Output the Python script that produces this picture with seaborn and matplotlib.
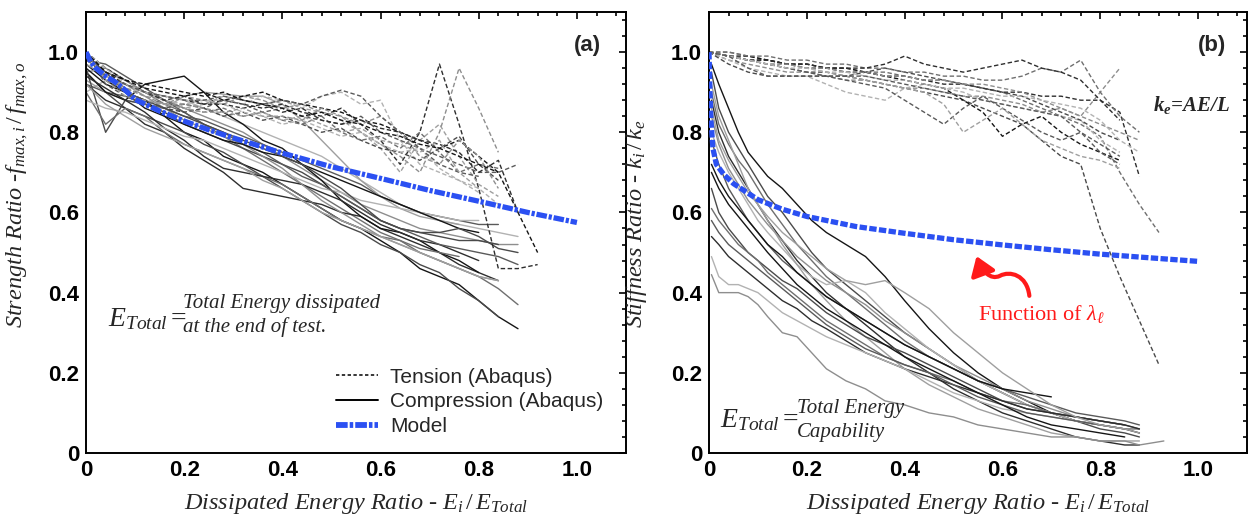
import matplotlib
matplotlib.use("Agg")
import matplotlib.pyplot as plt
import seaborn as sns
from matplotlib.lines import Line2D
from matplotlib.ticker import MultipleLocator, FuncFormatter
from matplotlib.patches import FancyArrowPatch
from matplotlib.path import Path

# ---------------- data ----------------
# common x grid (dissipated energy ratio) for most test curves
X_GRID = [0.00, 0.04, 0.08, 0.12, 0.16, 0.20, 0.24, 0.28, 0.32, 0.36, 0.40, 0.44,
          0.48, 0.52, 0.56, 0.60, 0.64, 0.68, 0.72, 0.76, 0.80, 0.84, 0.88, 0.92]
# x grid for compression stiffness curves (panel b)
X_GRID_B = [0.005, 0.02, 0.04, 0.06, 0.08, 0.10, 0.12, 0.15, 0.18, 0.21, 0.24, 0.28, 0.32,
            0.36, 0.40, 0.45, 0.50, 0.55, 0.60, 0.65, 0.70, 0.75, 0.80, 0.85, 0.88, 0.93]

# Panel (a) - strength ratio, tension (Abaqus)
tension_a = [
    [1.00, 0.95, 0.92, 0.90, 0.89, 0.88, 0.87, 0.88, 0.87, 0.86, 0.87, 0.85, 0.84, 0.86, 0.82, 0.78, 0.72, 0.80, 0.97, 0.82, 0.66, 0.46, 0.46, 0.47],
    [1.00, 0.93, 0.90, 0.88, 0.87, 0.89, 0.88, 0.87, 0.89, 0.88, 0.86, 0.87, 0.85, 0.84, 0.80, 0.77, 0.74, 0.70, 0.80, 0.96, 0.86, 0.75],
    [1.00, 0.94, 0.91, 0.90, 0.88, 0.87, 0.88, 0.88, 0.87, 0.89, 0.88, 0.86, 0.89, 0.90, 0.87, 0.88, 0.78, 0.72, 0.70, 0.68, 0.66, 0.62],
    [1.00, 0.92, 0.89, 0.87, 0.86, 0.87, 0.86, 0.88, 0.87, 0.85, 0.86, 0.84, 0.83, 0.82, 0.84, 0.80, 0.78, 0.76, 0.74, 0.72, 0.70, 0.70, 0.72],
    [1.00, 0.95, 0.91, 0.89, 0.88, 0.86, 0.87, 0.89, 0.88, 0.87, 0.88, 0.86, 0.85, 0.83, 0.80, 0.76, 0.70, 0.78, 0.82, 0.74, 0.67, 0.64],
    [1.00, 0.96, 0.93, 0.91, 0.90, 0.89, 0.90, 0.88, 0.89, 0.90, 0.88, 0.87, 0.86, 0.85, 0.83, 0.82, 0.80, 0.78, 0.76, 0.78, 0.74, 0.70, 0.60, 0.50],
    [1.00, 0.93, 0.90, 0.88, 0.86, 0.85, 0.86, 0.84, 0.85, 0.83, 0.84, 0.82, 0.80, 0.81, 0.78, 0.76, 0.75, 0.73, 0.76, 0.79, 0.72, 0.68],
    [1.00, 0.94, 0.90, 0.87, 0.88, 0.86, 0.85, 0.86, 0.84, 0.85, 0.83, 0.82, 0.84, 0.80, 0.78, 0.79, 0.76, 0.80, 0.75, 0.70, 0.72, 0.71],
    [1.00, 0.95, 0.92, 0.90, 0.88, 0.89, 0.87, 0.87, 0.86, 0.87, 0.85, 0.86, 0.83, 0.82, 0.83, 0.81, 0.80, 0.78, 0.77, 0.75, 0.70, 0.73, 0.60],
    [1.00, 0.94, 0.91, 0.89, 0.87, 0.87, 0.86, 0.85, 0.86, 0.84, 0.84, 0.83, 0.86, 0.84, 0.82, 0.84, 0.80, 0.74, 0.72, 0.78, 0.74, 0.66],
    [1.00, 0.96, 0.92, 0.90, 0.89, 0.88, 0.88, 0.87, 0.85, 0.84, 0.82, 0.83, 0.81, 0.79, 0.80, 0.77, 0.75, 0.76, 0.71, 0.68, 0.65],
    [1.00, 0.94, 0.92, 0.90, 0.89, 0.88, 0.88, 0.89, 0.88, 0.87, 0.88, 0.87, 0.89, 0.905, 0.89, 0.84, 0.80, 0.76, 0.72, 0.70, 0.69],
    [1.00, 0.93, 0.89, 0.88, 0.87, 0.86, 0.85, 0.85, 0.84, 0.85, 0.83, 0.84, 0.82, 0.80, 0.81, 0.78, 0.77, 0.75, 0.78, 0.70, 0.66],
    [1.00, 0.95, 0.93, 0.92, 0.91, 0.90, 0.89, 0.90, 0.88, 0.87, 0.86, 0.84, 0.85, 0.83, 0.82, 0.80, 0.79, 0.77, 0.76, 0.74, 0.72, 0.70],
]

# Panel (a) - strength ratio, compression (Abaqus)
compression_a = [
    [0.97, 0.93, 0.90, 0.86, 0.84, 0.80, 0.78, 0.74, 0.72, 0.70, 0.67, 0.64, 0.61, 0.58, 0.56, 0.53, 0.50, 0.46, 0.44, 0.42, 0.38, 0.34, 0.31],
    [0.95, 0.90, 0.86, 0.84, 0.82, 0.80, 0.77, 0.75, 0.72, 0.69, 0.66, 0.63, 0.60, 0.57, 0.55, 0.52, 0.50, 0.47, 0.45, 0.41, 0.38, 0.34],
    [0.98, 0.95, 0.93, 0.90, 0.87, 0.85, 0.82, 0.79, 0.76, 0.73, 0.70, 0.67, 0.64, 0.61, 0.58, 0.55, 0.53, 0.50, 0.48, 0.46, 0.44, 0.41, 0.37],
    [0.92, 0.88, 0.86, 0.82, 0.80, 0.76, 0.73, 0.70, 0.66, 0.65, 0.64, 0.63, 0.62, 0.60, 0.59, 0.56, 0.54, 0.52, 0.50, 0.47, 0.45, 0.43],
    [0.95, 0.96, 0.93, 0.90, 0.88, 0.86, 0.84, 0.82, 0.80, 0.77, 0.74, 0.71, 0.68, 0.65, 0.62, 0.60, 0.58, 0.56, 0.55, 0.54, 0.53, 0.52, 0.52],
    [0.90, 0.93, 0.92, 0.90, 0.89, 0.88, 0.86, 0.84, 0.82, 0.80, 0.78, 0.76, 0.74, 0.71, 0.68, 0.65, 0.62, 0.60, 0.58, 0.57, 0.56, 0.55, 0.54],
    [0.92, 0.90, 0.89, 0.87, 0.86, 0.84, 0.83, 0.81, 0.79, 0.77, 0.75, 0.73, 0.71, 0.69, 0.67, 0.64, 0.62, 0.60, 0.59, 0.58, 0.57, 0.57],
    [0.93, 0.90, 0.88, 0.87, 0.86, 0.89, 0.90, 0.895, 0.89, 0.89, 0.87, 0.83, 0.78, 0.73, 0.68, 0.64, 0.61, 0.59, 0.58, 0.57],
    [0.95, 0.90, 0.88, 0.92, 0.93, 0.94, 0.90, 0.85, 0.82, 0.78, 0.76, 0.72, 0.68, 0.63, 0.59, 0.56, 0.55, 0.53, 0.50, 0.48, 0.45],
    [0.96, 0.80, 0.88, 0.87, 0.85, 0.82, 0.80, 0.78, 0.76, 0.74, 0.72, 0.70, 0.67, 0.64, 0.61, 0.58, 0.56, 0.55, 0.54, 0.53, 0.53, 0.52],
    [0.90, 0.82, 0.86, 0.84, 0.80, 0.77, 0.75, 0.73, 0.71, 0.69, 0.67, 0.64, 0.61, 0.58, 0.56, 0.54, 0.53, 0.51, 0.50, 0.49],
    [0.94, 0.91, 0.88, 0.85, 0.81, 0.78, 0.74, 0.71, 0.70, 0.69, 0.68, 0.67, 0.65, 0.63, 0.60, 0.57, 0.55, 0.53, 0.52, 0.50, 0.48],
    [0.97, 0.94, 0.92, 0.89, 0.86, 0.83, 0.81, 0.79, 0.77, 0.74, 0.71, 0.67, 0.63, 0.60, 0.57, 0.54, 0.52, 0.50, 0.48, 0.46, 0.44, 0.43],
    [0.88, 0.86, 0.85, 0.83, 0.81, 0.79, 0.78, 0.76, 0.74, 0.72, 0.70, 0.68, 0.66, 0.65, 0.63, 0.62, 0.61, 0.60, 0.59, 0.58, 0.58],
    [0.98, 0.97, 0.94, 0.91, 0.88, 0.85, 0.82, 0.80, 0.77, 0.75, 0.72, 0.69, 0.67, 0.64, 0.61, 0.58, 0.56, 0.54, 0.52, 0.51, 0.50, 0.49, 0.47],
    [0.92, 0.87, 0.84, 0.81, 0.79, 0.77, 0.75, 0.73, 0.71, 0.68, 0.66, 0.63, 0.60, 0.58, 0.56, 0.54, 0.52, 0.50, 0.48, 0.46, 0.44, 0.43],
    [0.96, 0.92, 0.90, 0.88, 0.84, 0.82, 0.80, 0.78, 0.77, 0.75, 0.74, 0.72, 0.70, 0.68, 0.66, 0.64, 0.62, 0.60, 0.58, 0.56, 0.55],
    [0.99, 0.95, 0.90, 0.88, 0.86, 0.84, 0.82, 0.80, 0.78, 0.76, 0.74, 0.72, 0.69, 0.66, 0.62, 0.58, 0.56, 0.55, 0.55, 0.56, 0.54, 0.51, 0.50],
]

# Panel (b) - stiffness ratio, tension (Abaqus)
tension_b = [
    [1.00, 0.99, 0.98, 0.97, 0.96, 0.95, 0.95, 0.94, 0.93, 0.92, 0.91, 0.90, 0.89, 0.88, 0.86, 0.84, 0.82, 0.78, 0.74, 0.72, 0.56, 0.44, 0.33, 0.22],
    [1.00, 1.00, 0.99, 0.98, 0.97, 0.97, 0.96, 0.96, 0.95, 0.95, 0.94, 0.93, 0.93, 0.92, 0.91, 0.90, 0.88, 0.86, 0.84, 0.82, 0.79, 0.70, 0.62, 0.55],
    [1.00, 0.99, 0.98, 0.98, 0.97, 0.96, 0.96, 0.95, 0.95, 0.94, 0.94, 0.93, 0.92, 0.92, 0.91, 0.90, 0.90, 0.89, 0.89, 0.88, 0.88, 0.85, 0.69],
    [1.00, 0.98, 0.97, 0.96, 0.95, 0.95, 0.94, 0.93, 0.93, 0.92, 0.91, 0.91, 0.90, 0.89, 0.89, 0.88, 0.87, 0.85, 0.86, 0.84, 0.90, 0.96],
    [1.00, 0.98, 0.96, 0.95, 0.94, 0.94, 0.92, 0.90, 0.89, 0.88, 0.91, 0.92, 0.91, 0.90, 0.88, 0.87, 0.86, 0.85, 0.84, 0.83, 0.78, 0.75],
    [1.00, 0.99, 0.98, 0.97, 0.96, 0.95, 0.94, 0.93, 0.92, 0.91, 0.88, 0.85, 0.82, 0.86, 0.89, 0.86, 0.83, 0.80, 0.78, 0.80, 0.77, 0.74],
    [1.00, 0.99, 0.98, 0.97, 0.97, 0.96, 0.95, 0.94, 0.93, 0.92, 0.91, 0.90, 0.87, 0.80, 0.83, 0.86, 0.82, 0.78, 0.76, 0.74, 0.73, 0.71],
    [1.00, 0.99, 0.99, 0.98, 0.97, 0.97, 0.96, 0.96, 0.95, 0.94, 0.93, 0.92, 0.91, 0.88, 0.85, 0.79, 0.82, 0.84, 0.80, 0.77, 0.75, 0.73],
    [1.00, 0.97, 0.95, 0.94, 0.94, 0.94, 0.94, 0.94, 0.95, 0.96, 0.95, 0.94, 0.93, 0.92, 0.91, 0.90, 0.89, 0.87, 0.85, 0.83, 0.80, 0.78],
    [1.00, 1.00, 0.99, 0.99, 0.98, 0.98, 0.97, 0.97, 0.96, 0.96, 0.95, 0.95, 0.94, 0.94, 0.93, 0.93, 0.94, 0.96, 0.95, 0.98, 0.90, 0.84, 0.80],
    [1.00, 0.99, 0.98, 0.98, 0.97, 0.97, 0.96, 0.96, 0.96, 0.97, 0.99, 0.97, 0.96, 0.95, 0.96, 0.97, 0.98, 0.96, 0.95, 0.93, 0.88, 0.83],
    [1.00, 0.99, 0.98, 0.97, 0.97, 0.96, 0.96, 0.95, 0.95, 0.94, 0.94, 0.93, 0.93, 0.92, 0.92, 0.91, 0.90, 0.88, 0.86, 0.84, 0.82, 0.80, 0.78],
    [1.00, 0.99, 0.98, 0.97, 0.96, 0.96, 0.95, 0.95, 0.94, 0.93, 0.93, 0.92, 0.91, 0.91, 0.90, 0.89, 0.89, 0.88, 0.87, 0.86, 0.83, 0.78, 0.75],
    [1.00, 0.99, 0.96, 0.94, 0.94, 0.94, 0.94, 0.94, 0.94, 0.93, 0.92, 0.91, 0.90, 0.89, 0.88, 0.87, 0.86, 0.85, 0.84, 0.80, 0.75, 0.72],
]

# Panel (b) - stiffness ratio, compression (Abaqus)
compression_b = [
    [0.97, 0.92, 0.86, 0.80, 0.75, 0.72, 0.69, 0.66, 0.62, 0.58, 0.55, 0.52, 0.49, 0.44, 0.38, 0.31, 0.25, 0.20, 0.16, 0.13, 0.10, 0.08, 0.07, 0.06, 0.05],
    [0.95, 0.86, 0.80, 0.76, 0.72, 0.68, 0.64, 0.60, 0.55, 0.50, 0.46, 0.42, 0.38, 0.34, 0.30, 0.26, 0.22, 0.18, 0.15, 0.12, 0.10, 0.08, 0.06, 0.05, 0.04],
    [0.90, 0.82, 0.77, 0.73, 0.70, 0.66, 0.62, 0.57, 0.52, 0.48, 0.44, 0.40, 0.36, 0.32, 0.28, 0.24, 0.21, 0.18, 0.15, 0.12, 0.10, 0.08, 0.07, 0.06, 0.06],
    [0.88, 0.80, 0.74, 0.70, 0.66, 0.62, 0.58, 0.53, 0.48, 0.44, 0.40, 0.36, 0.32, 0.28, 0.24, 0.20, 0.16, 0.13, 0.10, 0.08, 0.06, 0.04, 0.03, 0.02, 0.02],
    [0.84, 0.77, 0.71, 0.67, 0.63, 0.60, 0.57, 0.53, 0.49, 0.46, 0.43, 0.40, 0.37, 0.33, 0.30, 0.26, 0.22, 0.19, 0.16, 0.13, 0.11, 0.09, 0.08, 0.07],
    [0.80, 0.75, 0.70, 0.66, 0.62, 0.58, 0.55, 0.51, 0.47, 0.44, 0.42, 0.43, 0.40, 0.35, 0.31, 0.26, 0.22, 0.18, 0.15, 0.12, 0.10, 0.08, 0.07],
    [0.78, 0.72, 0.66, 0.62, 0.58, 0.55, 0.52, 0.48, 0.45, 0.42, 0.39, 0.36, 0.33, 0.30, 0.27, 0.24, 0.21, 0.18, 0.16, 0.14, 0.12, 0.10, 0.09, 0.08, 0.07],
    [0.92, 0.84, 0.78, 0.72, 0.66, 0.62, 0.58, 0.52, 0.47, 0.42, 0.38, 0.33, 0.29, 0.25, 0.21, 0.17, 0.14, 0.11, 0.09, 0.07, 0.05, 0.04, 0.03, 0.03, 0.03],
    [0.72, 0.68, 0.64, 0.61, 0.58, 0.55, 0.52, 0.49, 0.45, 0.42, 0.39, 0.36, 0.33, 0.30, 0.27, 0.24, 0.21, 0.18, 0.16, 0.15, 0.14],
    [0.66, 0.60, 0.56, 0.53, 0.50, 0.48, 0.46, 0.43, 0.41, 0.38, 0.35, 0.32, 0.29, 0.27, 0.25, 0.22, 0.19, 0.16, 0.13, 0.11, 0.10, 0.09, 0.08, 0.07],
    [0.61, 0.58, 0.55, 0.52, 0.50, 0.48, 0.45, 0.42, 0.39, 0.36, 0.33, 0.30, 0.27, 0.24, 0.22, 0.20, 0.18, 0.15, 0.13, 0.12, 0.10, 0.09, 0.08, 0.07, 0.06],
    [0.54, 0.52, 0.49, 0.47, 0.45, 0.43, 0.41, 0.38, 0.36, 0.33, 0.31, 0.28, 0.25, 0.23, 0.21, 0.19, 0.17, 0.15, 0.13, 0.11, 0.10, 0.09, 0.08, 0.07, 0.06],
    [0.445, 0.40, 0.40, 0.40, 0.39, 0.37, 0.34, 0.30, 0.29, 0.25, 0.21, 0.18, 0.16, 0.13, 0.12, 0.10, 0.09, 0.07, 0.06, 0.05, 0.04, 0.04, 0.03, 0.03, 0.02, 0.03],
    [0.49, 0.44, 0.42, 0.42, 0.41, 0.40, 0.38, 0.35, 0.33, 0.31, 0.29, 0.27, 0.25, 0.23, 0.21, 0.18, 0.15, 0.13, 0.11, 0.10, 0.09, 0.08, 0.07, 0.06],
    [0.58, 0.55, 0.52, 0.50, 0.48, 0.46, 0.44, 0.41, 0.38, 0.35, 0.32, 0.29, 0.26, 0.24, 0.22, 0.20, 0.17, 0.14, 0.12, 0.10, 0.09, 0.08, 0.07, 0.06],
    [0.86, 0.78, 0.73, 0.69, 0.65, 0.62, 0.59, 0.55, 0.52, 0.49, 0.46, 0.43, 0.42, 0.43, 0.40, 0.36, 0.30, 0.25, 0.20, 0.16, 0.12, 0.09, 0.07, 0.06, 0.05],
    [0.70, 0.66, 0.62, 0.59, 0.56, 0.53, 0.50, 0.46, 0.42, 0.39, 0.36, 0.33, 0.30, 0.27, 0.24, 0.21, 0.18, 0.15, 0.12, 0.09, 0.07, 0.06, 0.05, 0.04],
]

# Models
model_a_x = [0.0, 0.01, 0.02, 0.04, 0.06, 0.08, 0.10, 0.15, 0.20, 0.25, 0.30, 0.40, 0.50, 0.60, 0.70, 0.80, 0.90, 1.00]
model_a_y = [1.00, 0.975, 0.96, 0.94, 0.925, 0.905, 0.882, 0.853, 0.828, 0.806, 0.786, 0.748, 0.714, 0.685, 0.655, 0.628, 0.600, 0.575]
model_b_x = [0.0, 0.002, 0.004, 0.008, 0.015, 0.03, 0.05, 0.075, 0.10, 0.15, 0.20, 0.30, 0.40, 0.50, 0.60, 0.70, 0.80, 0.90, 1.00]
model_b_y = [1.00, 0.90, 0.83, 0.76, 0.72, 0.695, 0.672, 0.652, 0.632, 0.608, 0.590, 0.565, 0.548, 0.532, 0.519, 0.507, 0.496, 0.487, 0.478]

tick_values = [0.0, 0.2, 0.4, 0.6, 0.8, 1.0]
legend_labels = ["Tension (Abaqus)", "Compression (Abaqus)", "Model"]

# ---------------- style ----------------
sns.set_style("white")
plt.rcParams["font.family"] = ["Liberation Sans", "DejaVu Sans"]
plt.rcParams["mathtext.fontset"] = "custom"
plt.rcParams["mathtext.rm"] = "Liberation Serif"
plt.rcParams["mathtext.it"] = "Liberation Serif:italic"
plt.rcParams["mathtext.bf"] = "Liberation Serif:italic:bold"

GRAYS = ["#151515", "#4a4a4a", "#6f6f6f", "#2e2e2e", "#8e8e8e", "#b2b2b2", "#5a5a5a", "#9f9f9f"]
BLUE = "#2b50f2"
RED = "#ff1a1a"
TEN_LS = (0, (3.2, 1.8))
SERIF = "Liberation Serif"

fig = plt.figure(figsize=(12.49, 5.21), dpi=100)
ax1 = fig.add_axes([86 / 1249, 68 / 521, 540 / 1249, 441 / 521])
ax2 = fig.add_axes([709 / 1249, 68 / 521, 538 / 1249, 441 / 521])


def draw(ax, xs, ys, color, lw, ls, z=2):
    sns.lineplot(x=xs[:len(ys)], y=ys, ax=ax, color=color, linewidth=lw, linestyle=ls,
                 estimator=None, sort=False, legend=False, zorder=z)


for i, ys in enumerate(compression_a):
    draw(ax1, X_GRID, ys, GRAYS[i % len(GRAYS)], 1.0, "-")
for i, ys in enumerate(tension_a):
    draw(ax1, X_GRID, ys, GRAYS[(i + 3) % len(GRAYS)], 1.0, TEN_LS)
draw(ax1, model_a_x, model_a_y, BLUE, 3.8, (0, (2.0, 0.35, 0.6, 0.35)), z=5)

for i, ys in enumerate(compression_b):
    draw(ax2, X_GRID_B, ys, GRAYS[i % len(GRAYS)], 1.0, "-")
for i, ys in enumerate(tension_b):
    draw(ax2, X_GRID, ys, GRAYS[(i + 1) % len(GRAYS)], 1.0, TEN_LS)
draw(ax2, model_b_x, model_b_y, BLUE, 3.8, (0, (1.4, 0.45)), z=5)

fmt = FuncFormatter(lambda v, p: "0" if abs(v) < 1e-9 else f"{v:.1f}")
for ax in (ax1, ax2):
    ax.set_xlim(0, 1.1)
    ax.set_ylim(0, 1.1)
    ax.set_xticks(tick_values)
    ax.set_yticks(tick_values)
    ax.xaxis.set_minor_locator(MultipleLocator(0.04))
    ax.yaxis.set_minor_locator(MultipleLocator(0.04))
    ax.xaxis.set_major_formatter(fmt)
    ax.yaxis.set_major_formatter(fmt)
    ax.tick_params(which="both", direction="in", top=True, right=True, width=1.2, colors="black")
    ax.tick_params(which="major", length=5, labelsize=16, pad=5)
    ax.tick_params(which="minor", length=2.6)
    for lab in ax.get_xticklabels() + ax.get_yticklabels():
        lab.set_fontweight("bold")
    for sp in ax.spines.values():
        sp.set_linewidth(1.4)
        sp.set_color("black")
    ax.set_xlabel(r"Dissipated Energy Ratio - $E_i\,/\,E_{Total}$", fontfamily=SERIF,
                  style="italic", fontsize=17.5, labelpad=7)

ax1.set_ylabel(r"Strength Ratio -$f_{max,i}\,/\,f_{max,o}$", fontfamily=SERIF,
               style="italic", fontsize=17.5)
ax1.yaxis.set_label_coords(-0.103, 0.585)
ax2.set_ylabel(r"Stiffness Ratio - $k_i\,/\,k_e$", fontfamily=SERIF,
               style="italic", fontsize=17.5)
ax2.yaxis.set_label_coords(-0.112, 0.52)

# panel letters
ax1.text(1.022, 1.017, "(a)", fontsize=16, fontweight="bold", ha="center", va="center")
ax2.text(1.029, 1.017, "(b)", fontsize=16, fontweight="bold", ha="center", va="center")

# E_Total annotations
ax1.text(0.044, 0.334, r"$E_{Total}=$", fontsize=20, va="center", ha="left")
ax1.text(0.197, 0.374, "Total Energy dissipated", fontfamily=SERIF, style="italic",
         fontsize=15, va="center", ha="left")
ax1.text(0.197, 0.314, "at the end of test.", fontfamily=SERIF, style="italic",
         fontsize=15, va="center", ha="left")
ax2.text(0.022, 0.082, r"$E_{Total}=$", fontsize=20, va="center", ha="left")
ax2.text(0.180, 0.112, "Total Energy", fontfamily=SERIF, style="italic",
         fontsize=15, va="center", ha="left")
ax2.text(0.180, 0.052, "Capability", fontfamily=SERIF, style="italic",
         fontsize=15, va="center", ha="left")

ax2.text(0.908, 0.868, r"$\mathbf{k}_{\mathbf{e}}$=AE/L", fontfamily=SERIF, style="italic",
         fontweight="bold", fontsize=15, va="center", ha="left")

# red annotation
ax2.text(0.551, 0.347, r"Function of $\lambda_\ell$", color=RED, fontfamily=SERIF,
         fontsize=16, va="center", ha="left")
arrow_path = Path(
    [(0.655, 0.392), (0.650, 0.445), (0.615, 0.455), (0.595, 0.442),
     (0.575, 0.430), (0.558, 0.455), (0.547, 0.491)],
    [Path.MOVETO, Path.CURVE4, Path.CURVE4, Path.CURVE4, Path.CURVE4, Path.CURVE4, Path.CURVE4])
arrow = FancyArrowPatch(path=arrow_path, arrowstyle="-|>,head_length=0.55,head_width=0.38",
                        mutation_scale=20, color=RED, lw=3.0, transform=ax2.transData, zorder=6)
ax2.add_patch(arrow)

# legend
handles = [
    Line2D([], [], color="black", lw=1.1, linestyle=(0, (2.2, 1.6))),
    Line2D([], [], color="black", lw=1.4, linestyle="-"),
    Line2D([], [], color=BLUE, lw=4.2, linestyle=(0, (2.0, 0.35, 0.6, 0.35))),
]
ax1.legend(handles, legend_labels, loc="lower right", bbox_to_anchor=(0.985, 0.005), frameon=False,
           fontsize=15, handlelength=2.0, handletextpad=0.6, labelspacing=0.28, borderaxespad=0.3)

fig.savefig("out.png", dpi=100)
